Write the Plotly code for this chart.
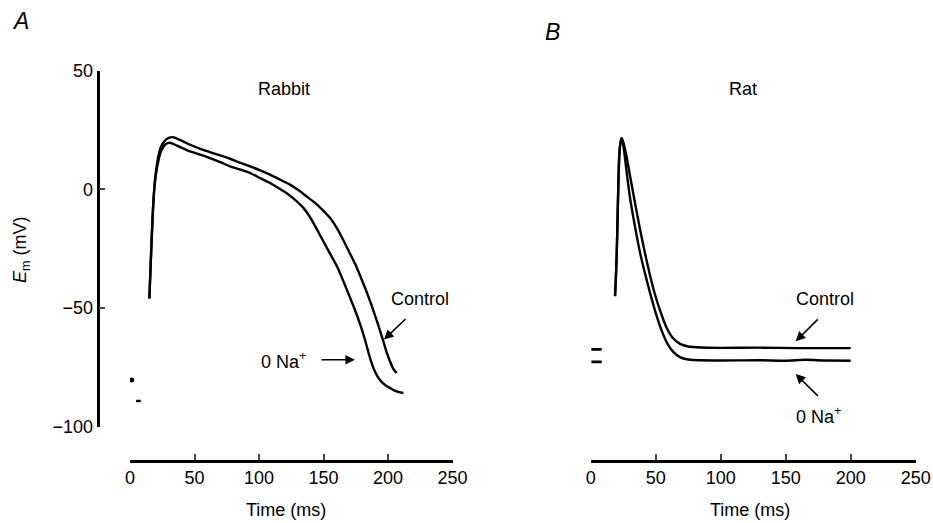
import plotly.graph_objects as go

# ---------------- data (time in ms, membrane potential in mV) ----------------
rabbit_ctrl_t = [15, 16.5, 17.5, 18.5, 20, 22, 24, 27, 30, 33, 36, 40, 46.5, 55, 62, 70, 77.5, 85, 93,
                 100, 108.5, 116, 124, 131, 137, 143, 149, 155, 160, 165, 170, 175, 180, 184, 188,
                 192, 196.4, 199, 201.6, 204, 206.7]
rabbit_ctrl_v = [-46, -25, -12, -2, 7, 14, 18, 20.5, 21.7, 22, 21.5, 20.5, 18.8, 17, 15.7, 14.3, 12.9, 11.3, 9.7,
                 8.2, 6.2, 4.2, 2, -0.5, -3, -5.5, -8.5, -12, -16, -21, -26.5, -32, -38.5, -44, -50,
                 -56.5, -64, -68.8, -72.5, -75.5, -77.4]

rabbit_na0_t = [15, 16.5, 17.5, 18.5, 20, 22, 24, 27, 30, 33, 36, 40, 46.5, 55, 62, 70, 77.5, 85, 93,
                100, 108.5, 116, 121.5, 128, 134.4, 140.5, 147, 154, 161, 167.5, 173.8, 178.5, 182.5,
                185.5, 188.5, 191.5, 194.5, 198, 202, 206, 211.9]
rabbit_na0_v = [-46, -25, -12, -2, 6, 12, 16, 18.8, 19.6, 19.3, 18.5, 17.6, 16, 14.5, 13.2, 11.5, 9.7, 8.4, 6.9,
                5, 2.7, 0.3, -1.6, -4.4, -7.8, -12.5, -19, -26, -33, -41.5, -50, -57, -64,
                -70, -75, -78.5, -80.8, -82.5, -83.8, -85, -85.8]

rat_ctrl_t = [18.7, 19.3, 20, 20.6, 21.2, 22, 23, 23.8, 24.8, 26, 27.7, 30, 34, 38, 41.8, 45.5, 49.5,
              54, 58.5, 63, 68.7, 75, 81.5, 100, 130, 160, 200]
rat_ctrl_v = [-45, -38, -27.5, -14, 0.5, 14.6, 20, 21.6, 20.3, 17.8, 13.5, 6.5, -5.5, -17, -27, -36, -44.4,
              -52, -58.4, -62.5, -65.1, -66.2, -66.5, -66.8, -66.7, -66.9, -66.9]

rat_na0_t = [18.7, 19.3, 20, 20.6, 21.2, 22, 23, 23.8, 24.6, 25.3, 26.2, 27.5, 29, 30.5, 34, 37.9, 41.8,
             45.6, 50, 54.6, 59, 63.5, 69, 76.4, 99.5, 130, 150, 165, 180, 200]
rat_na0_v = [-45, -38, -27.5, -14, 0.5, 14.6, 20, 21.6, 20.3, 17.8, 14, 8, 1.5, -4.5, -15.5, -26.5, -35.5,
             -43.5, -52, -59.5, -65, -68.5, -70.8, -71.8, -72.1, -72, -72.2, -71.8, -72.1, -72.2]

# resting potential markers
rabbit_rest_ctrl_t = [1.3]
rabbit_rest_ctrl_v = [-80.3]
rabbit_rest_na0_t = [4.7, 8.3]
rabbit_rest_na0_v = [-89.2, -89.2]
rat_rest_ctrl_t = [0.5, 8.5]
rat_rest_ctrl_v = [-67.4, -67.4]
rat_rest_na0_t = [0.5, 8.5]
rat_rest_na0_v = [-72.7, -72.7]

x_ticks = [0, 50, 100, 150, 200, 250]
y_ticks = [-100, -50, 0, 50]

FONT = "Liberation Sans, Arial, Helvetica, sans-serif"
FS = 18
LW = 2.4

fig = go.Figure()

def line(t, v, xa, ya, w=LW, smooth=True):
    fig.add_trace(go.Scatter(x=t, y=v, mode="lines", xaxis=xa, yaxis=ya,
                             line=dict(color="black", width=w,
                                       shape="spline" if smooth else "linear", smoothing=0.5),
                             showlegend=False, hoverinfo="skip"))

line(rabbit_ctrl_t, rabbit_ctrl_v, "x", "y")
line(rabbit_na0_t, rabbit_na0_v, "x", "y")
line(rat_ctrl_t, rat_ctrl_v, "x2", "y2")
line(rat_na0_t, rat_na0_v, "x2", "y2")
fig.add_trace(go.Scatter(x=rabbit_rest_ctrl_t, y=rabbit_rest_ctrl_v, mode="markers", xaxis="x", yaxis="y",
                         marker=dict(color="black", size=5), showlegend=False, hoverinfo="skip"))
line(rabbit_rest_na0_t, rabbit_rest_na0_v, "x", "y", 2.5, False)
line(rat_rest_ctrl_t, rat_rest_ctrl_v, "x2", "y2", 2.8, False)
line(rat_rest_na0_t, rat_rest_na0_v, "x2", "y2", 2.8, False)

W, H = 933, 523
def px(x):
    return x / W
def py(y):
    return 1 - y / H

tickfont = dict(family=FONT, size=FS, color="black")
xcommon = dict(range=[0, 250], tickvals=x_ticks, ticks="inside", ticklen=6, tickwidth=2.4,
               showline=True, linecolor="black", linewidth=2.6, showgrid=False, zeroline=False,
               tickfont=tickfont, anchor="free", position=py(461), fixedrange=True,
               automargin=False)

fig.update_layout(
    width=W, height=H,
    margin=dict(l=0, r=0, t=0, b=0, pad=0),
    paper_bgcolor="white", plot_bgcolor="white",
    font=dict(family=FONT, color="black"),
    xaxis=dict(domain=[px(130), px(452.5)], **xcommon),
    xaxis2=dict(domain=[px(590.7), px(915.7)], **xcommon),
    yaxis=dict(domain=[py(426.7), py(70.7)], range=[-100, 50], tickvals=y_ticks,
               ticks="inside", ticklen=6, tickwidth=2.4, showline=True, linecolor="black",
               linewidth=2.6, showgrid=False, zeroline=False, tickfont=tickfont,
               anchor="free", position=px(97.5), fixedrange=True, automargin=False),
    yaxis2=dict(domain=[py(426.7), py(70.7)], range=[-100, 50], visible=False,
                anchor="x2", fixedrange=True, automargin=False),
)

def txt(x, y, s, size=FS, **kw):
    fig.add_annotation(x=px(x), y=py(y), xref="paper", yref="paper", text=s, showarrow=False,
                       xanchor="center", yanchor="middle",
                       font=dict(family=FONT, size=size, color="black"), **kw)

txt(20, 21, "<i>A</i>", size=23)
txt(552, 32, "<i>B</i>", size=23)
txt(284, 89, "Rabbit")
txt(743, 89, "Rat")
txt(420, 299, "Control")
txt(283, 360, "0 Na<sup>+</sup>")
txt(825, 299, "Control")
txt(818, 415, "0 Na<sup>+</sup>")
txt(286, 510, "Time (ms)")
txt(750, 510, "Time (ms)")
txt(21, 250, "<i>E</i><sub>m</sub> (mV)", textangle=-90)

def arrow(xref, yref, x, y, ax, ay):
    fig.add_annotation(x=x, y=y, xref=xref, yref=yref, ax=ax, ay=ay, text="", showarrow=True,
                       arrowhead=2, arrowsize=1.2, arrowwidth=1.6, arrowcolor="black")

arrow("x", "y", 196.9, -63.3, 23, -22)
arrow("x", "y", 174.4, -71.8, -35, 0)
arrow("x2", "y2", 157.7, -64, 23.6, -23.3)
arrow("x2", "y2", 157.7, -77.8, 23.6, 23.3)

fig.write_html("out.html", config={"displayModeBar": False},
               post_script="document.body.style.margin='0';document.body.style.overflow='hidden';")
